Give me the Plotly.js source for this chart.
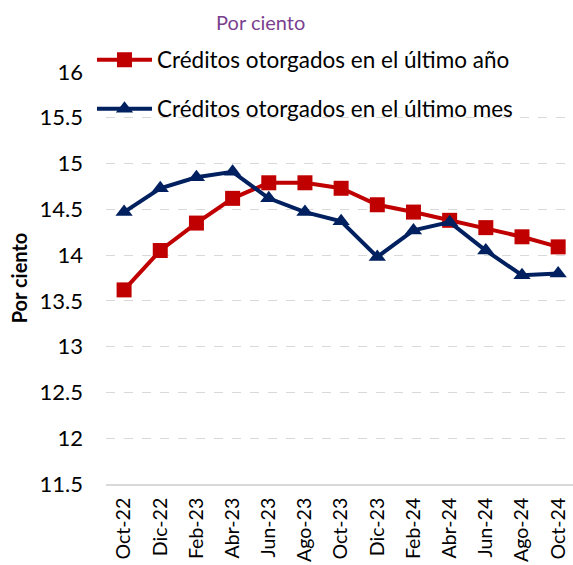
<!DOCTYPE html>
<html>
<head>
<meta charset="utf-8">
<script src="https://cdn.plot.ly/plotly-3.0.1.min.js"></script>
<style>html,body{margin:0;padding:0;background:#fff;}#chart{width:573px;height:565px;}</style>
</head>
<body>
<div id="chart"></div>
<script>
const categories = ["Oct-22","Dic-22","Feb-23","Abr-23","Jun-23","Ago-23","Oct-23","Dic-23","Feb-24","Abr-24","Jun-24","Ago-24","Oct-24"];
const ultimoAno = [13.62,14.05,14.35,14.62,14.79,14.79,14.73,14.55,14.47,14.38,14.30,14.20,14.09];
const ultimoMes = [14.47,14.73,14.85,14.91,14.62,14.47,14.37,13.98,14.27,14.36,14.05,13.78,13.80];
const yTicks = [11.5,12,12.5,13,13.5,14,14.5,15,15.5,16];

const FONT = "Lato, 'Open Sans', sans-serif";
const traces = [
  {x: categories, y: ultimoAno, type: 'scatter', mode: 'lines+markers', name: 'Créditos otorgados en el último año',
   line: {color: '#C00000', width: 4}, marker: {symbol: 'square', size: 15, color: '#C00000'}, cliponaxis: false, legend: 'legend'},
  {x: categories, y: ultimoMes, type: 'scatter', mode: 'lines+markers', name: 'Créditos otorgados en el último mes',
   line: {color: '#002060', width: 4}, marker: {symbol: 'triangle-up', size: 15, color: '#002060'}, cliponaxis: false, legend: 'legend2'}
];
const legendBase = {xanchor: 'left', yanchor: 'middle', bgcolor: 'rgba(0,0,0,0)', borderwidth: 0,
  font: {family: FONT, size: 22.5, color: '#000'}, itemwidth: 55};
const layout = {
  width: 573, height: 565,
  margin: {l: 106, r: 0, t: 72, b: 81},
  paper_bgcolor: '#fff', plot_bgcolor: '#fff',
  font: {family: FONT, color: '#000'},
  title: {text: 'Por ciento', font: {family: FONT, size: 20, color: '#7B3F8F'}, x: 0.455, xref: 'container', xanchor: 'center', y: 0.959, yanchor: 'middle'},
  showlegend: true,
  legend: Object.assign({}, legendBase, {x: -0.03, y: 1.029}),
  legend2: Object.assign({}, legendBase, {x: -0.03, y: 0.91}),
  xaxis: {type: 'category', categoryorder: 'array', categoryarray: categories, range: [-0.5, 12.41],
    tickangle: -90, tickfont: {family: FONT, size: 19.5, color: '#000'}, showgrid: false,
    showline: true, linecolor: '#D9D9D9', linewidth: 2, ticks: '', zeroline: false, ticklabelstandoff: 4},
  yaxis: {range: [11.5, 16], tickvals: yTicks, ticktext: yTicks.map(String),
    tickfont: {family: FONT, size: 22, color: '#000'}, showgrid: true, gridcolor: '#D9D9D9', griddash: 'dash', gridwidth: 1,
    zeroline: false, showline: false, ticks: '', ticklen: 0, ticklabelstandoff: 22,
    title: {text: '<b>Por ciento</b>', font: {family: FONT, size: 20, color: '#000'}, standoff: 6}}
};
Plotly.newPlot('chart', traces, layout, {displayModeBar: false, staticPlot: true});
</script>
</body>
</html>
